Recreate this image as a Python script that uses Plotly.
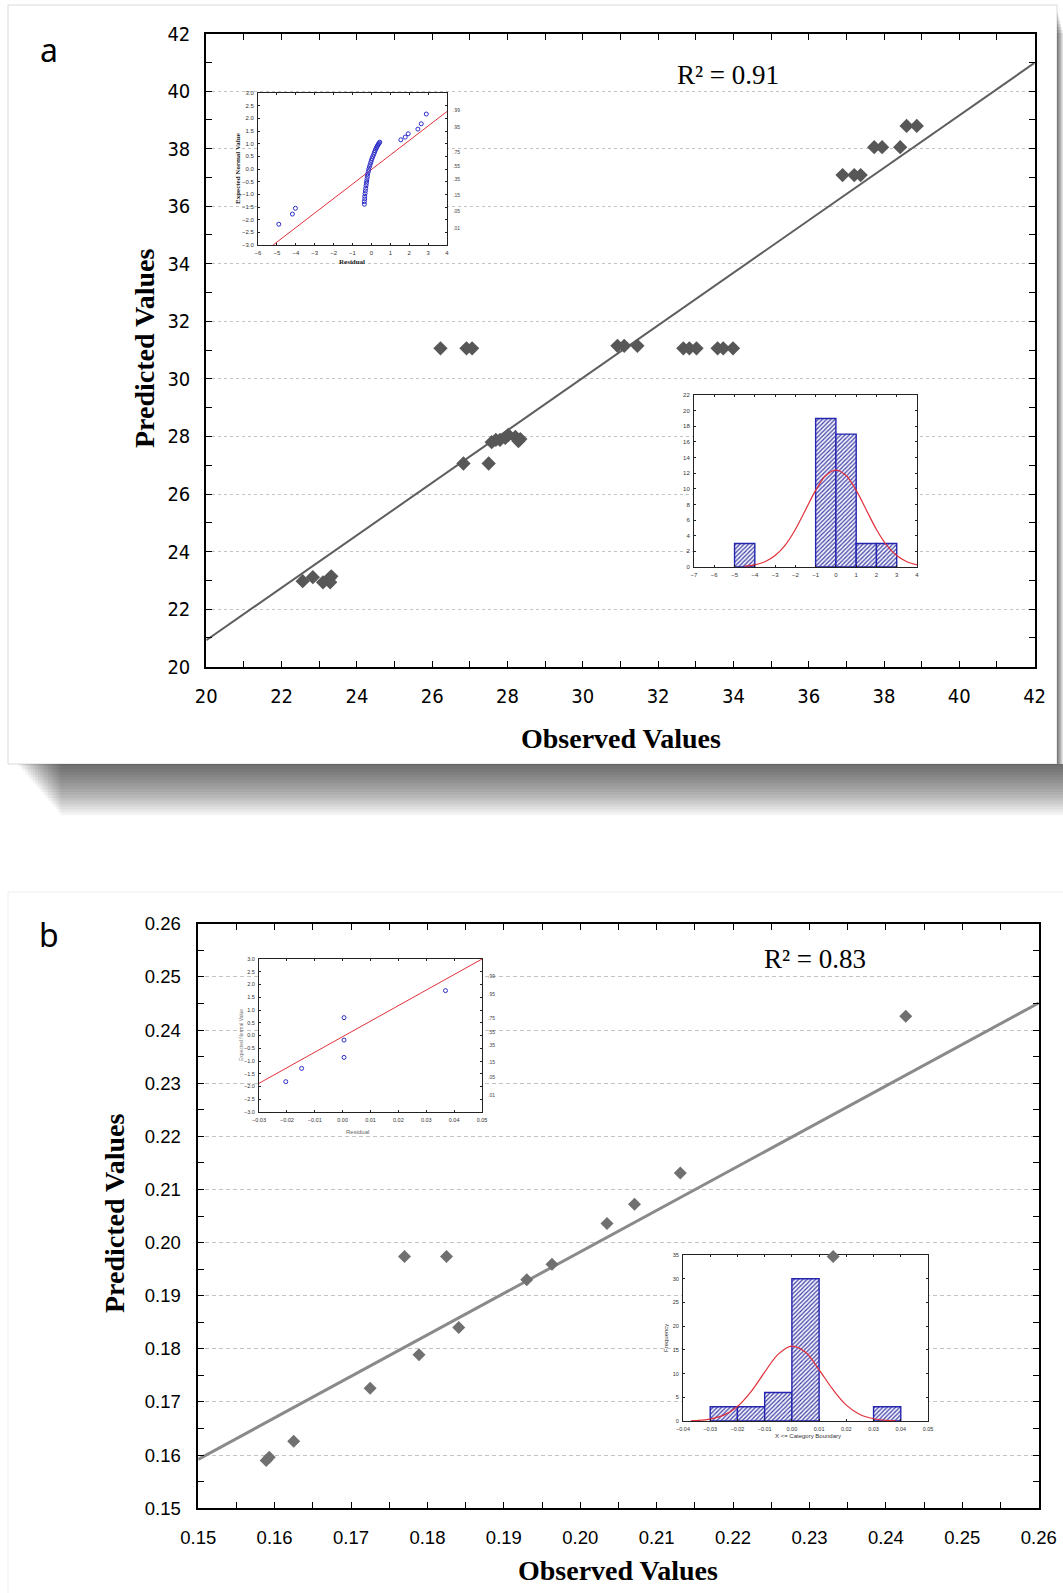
import plotly.graph_objects as go

W, H = 1063, 1593

# ---------------- Panel a data ----------------
a_observed = [22.56, 22.83, 23.10, 23.27, 23.32, 23.29,
              26.83, 27.50, 27.58, 27.69, 27.80, 27.94, 28.02, 28.21, 28.29, 28.34,
              26.22, 26.91, 27.06, 30.92, 31.10, 31.45, 32.67, 32.83, 33.02, 33.58, 33.73, 33.99,
              36.90, 37.21, 37.38, 37.74, 37.95, 38.43, 38.60, 38.87]
a_predicted = [22.97, 23.11, 22.93, 23.07, 23.14, 22.93,
               27.06, 27.06, 27.80, 27.88, 27.88, 27.95, 28.05, 27.98, 27.84, 27.91,
               31.06, 31.06, 31.06, 31.15, 31.15, 31.15, 31.06, 31.06, 31.06, 31.06, 31.06, 31.06,
               37.08, 37.08, 37.08, 38.05, 38.05, 38.05, 38.79, 38.79]
a_fit_x = [20, 42]
a_fit_y = [20.92, 40.98]
a_r2 = "R\u00b2 = 0.91"

# inset a1: normal probability plot of residuals
a1_residual = [-4.90, -4.18, -4.02,
               -0.372, -0.372, -0.354, -0.354, -0.336, -0.319, -0.301, -0.283, -0.265, -0.248,
               -0.230, -0.212, -0.195, -0.159, -0.142, -0.106, -0.071, -0.035, 0.000, 0.035,
               0.071, 0.124, 0.159, 0.195, 0.230, 0.265, 0.301, 0.336, 0.372, 0.407, 0.442,
               1.557, 1.788, 1.947, 2.460, 2.637, 2.903]
a1_expected = [-2.18, -1.78, -1.55,
               -1.393, -1.288, -1.182, -1.077, -0.971, -0.865, -0.760, -0.654, -0.562, -0.470,
               -0.377, -0.285, -0.193, -0.100, -0.008, 0.084, 0.164, 0.256, 0.335, 0.414,
               0.493, 0.573, 0.652, 0.718, 0.784, 0.836, 0.889, 0.942, 0.982, 1.021, 1.061,
               1.153, 1.259, 1.391, 1.575, 1.786, 2.169]
a1_line_x = [-5.2, 4.0]
a1_line_y = [-3.0, 2.27]

# inset a2: histogram of residuals
a2_bin_center = [-4.5, -0.5, 0.5, 1.5, 2.5]
a2_count = [3, 19, 17, 3, 3]
a2_bin_width = 1
a2_curve_x = [-4.5, -4.0, -3.5, -3.0, -2.5, -2.0, -1.5, -1.0, -0.5, 0.0,
              0.5, 1.0, 1.5, 2.0, 2.5, 3.0, 3.5, 4.0]
a2_curve_y = [0.10, 0.28, 0.67, 1.46, 2.8, 4.8, 7.3, 9.8, 11.7, 12.4,
              11.7, 9.8, 7.3, 4.8, 2.8, 1.46, 0.67, 0.28]

# ---------------- Panel b data ----------------
b_observed = [0.1589, 0.1593, 0.1625, 0.1725, 0.1770, 0.1789, 0.1825, 0.1841,
              0.1930, 0.1963, 0.2035, 0.2071, 0.2131, 0.2331, 0.2426]
b_predicted = [0.1590, 0.1596, 0.1626, 0.1726, 0.1974, 0.1789, 0.1974, 0.1840,
               0.1930, 0.1959, 0.2036, 0.2072, 0.2131, 0.1974, 0.2426]
b_fit_x = [0.15, 0.26]
b_fit_y = [0.1592, 0.2451]
b_r2 = "R\u00b2 = 0.83"

b1_residual = [-0.0204, -0.0147, 0.0005, 0.0005, 0.0005, 0.0369]
b1_expected = [-1.81, -1.29, 0.70, -0.18, -0.86, 1.76]
b1_line_x = [-0.03, 0.05]
b1_line_y = [-1.875, 3.0]

b2_bin_center = [-0.025, -0.015, -0.005, 0.005, 0.035]
b2_count = [3, 3, 6, 30, 3]
b2_bin_width = 0.01
b2_curve_x = [-0.037, -0.035, -0.030, -0.025, -0.020, -0.015, -0.010, -0.005, 0.000,
              0.005, 0.010, 0.015, 0.020, 0.025, 0.030, 0.035, 0.038]
b2_curve_y = [0.06, 0.11, 0.41, 1.23, 3.07, 6.2, 10.3, 14.1, 15.8,
              14.5, 10.8, 6.7, 3.35, 1.37, 0.47, 0.13, 0.05]

# normal probability labels on the right of the normal plots
prob_labels = [".99", ".95", ".75", ".55", ".35", ".15", ".05", ".01"]
prob_z = [2.326, 1.645, 0.674, 0.126, -0.385, -1.036, -1.645, -2.326]

# ---------------- ranges ----------------
a_range = [20, 42]
a1_xr, a1_yr = [-6, 4], [-3, 3]
a2_xr, a2_yr = [-7, 4], [0, 22]
b_range = [0.15, 0.26]
b1_xr, b1_yr = [-0.03, 0.05], [-3, 3]
b2_xr, b2_yr = [-0.04, 0.05], [0, 35]


def px_dom(p0, p1, total):
    return [p0 / total, p1 / total]


def py_dom(top, bottom):
    return [1 - bottom / H, 1 - top / H]


dom = {
    "a_x": px_dom(206.3, 1034.6, W), "a_y": py_dom(33.5, 666.7),
    "a1_x": px_dom(258, 447, W), "a1_y": py_dom(93, 245),
    "a2_x": px_dom(694, 917, W), "a2_y": py_dom(395, 567),
    "b_x": px_dom(198.2, 1038.7, W), "b_y": py_dom(923.8, 1508.2),
    "b1_x": px_dom(259, 482, W), "b1_y": py_dom(959, 1112),
    "b2_x": px_dom(683, 928, W), "b2_y": py_dom(1255, 1421),
}

NARROW = "Liberation Sans Narrow, DejaVu Sans Condensed, Arial Narrow, sans-serif"
SANS = "Liberation Sans, Arial, sans-serif"
SERIF = "Liberation Serif, Times New Roman, serif"

fig = go.Figure()

# ---- panel a main
fig.add_trace(go.Scatter(x=a_fit_x, y=a_fit_y, mode="lines",
                         line=dict(color="#5e5e5e", width=2), xaxis="x", yaxis="y",
                         hoverinfo="skip"))
fig.add_trace(go.Scatter(x=a_observed, y=a_predicted, mode="markers",
                         marker=dict(symbol="diamond", size=11, color="#575757"),
                         xaxis="x", yaxis="y"))


def bg_scatter(xr, yr, xa, ya):
    return go.Scatter(x=[xr[0], xr[1], xr[1], xr[0], xr[0]],
                      y=[yr[0], yr[0], yr[1], yr[1], yr[0]],
                      mode="lines", fill="toself", fillcolor="white",
                      line=dict(width=0, color="white"), xaxis=xa, yaxis=ya,
                      hoverinfo="skip")


def bg_bar(xr, yr, xa, ya):
    return go.Bar(x=[(xr[0] + xr[1]) / 2], y=[yr[1] - yr[0]], base=[yr[0]],
                  width=[xr[1] - xr[0]], marker=dict(color="white", line=dict(width=0)),
                  xaxis=xa, yaxis=ya, hoverinfo="skip")


hatch = dict(color="white", line=dict(color="#2424b0", width=1.4),
             pattern=dict(shape="/", fgcolor="#4040a8", bgcolor="#f4f4fb",
                          size=3, solidity=0.4))

# ---- inset a1
fig.add_trace(bg_scatter(a1_xr, a1_yr, "x2", "y2"))
fig.add_trace(go.Scatter(x=a1_line_x, y=a1_line_y, mode="lines",
                         line=dict(color="#e0303a", width=1), xaxis="x2", yaxis="y2"))
fig.add_trace(go.Scatter(x=a1_residual, y=a1_expected, mode="markers",
                         marker=dict(symbol="circle-open", size=4, color="#2b2bc8",
                                     line=dict(width=1)),
                         xaxis="x2", yaxis="y2"))

# ---- inset a2
fig.add_trace(bg_bar(a2_xr, a2_yr, "x3", "y3"))
fig.add_trace(go.Bar(x=a2_bin_center, y=a2_count, width=a2_bin_width, marker=hatch,
                     xaxis="x3", yaxis="y3"))
fig.add_trace(go.Scatter(x=a2_curve_x, y=a2_curve_y, mode="lines",
                         line=dict(color="#e0303a", width=1.2, shape="spline"),
                         xaxis="x3", yaxis="y3"))

# ---- panel b main (frame / grid / fit line)
fig.add_trace(go.Scatter(x=b_fit_x, y=b_fit_y, mode="lines",
                         line=dict(color="#8a8a8a", width=3), xaxis="x4", yaxis="y4",
                         hoverinfo="skip"))

# ---- inset b1
fig.add_trace(bg_scatter(b1_xr, b1_yr, "x5", "y5"))
fig.add_trace(go.Scatter(x=b1_line_x, y=b1_line_y, mode="lines",
                         line=dict(color="#e0303a", width=1), xaxis="x5", yaxis="y5"))
fig.add_trace(go.Scatter(x=b1_residual, y=b1_expected, mode="markers",
                         marker=dict(symbol="circle-open", size=4, color="#2b2bc8",
                                     line=dict(width=1)),
                         xaxis="x5", yaxis="y5"))

# ---- inset b2
fig.add_trace(bg_bar(b2_xr, b2_yr, "x6", "y6"))
fig.add_trace(go.Bar(x=b2_bin_center, y=b2_count, width=b2_bin_width, marker=hatch,
                     xaxis="x6", yaxis="y6"))
fig.add_trace(go.Scatter(x=b2_curve_x, y=b2_curve_y, mode="lines",
                         line=dict(color="#e0303a", width=1.2, shape="spline"),
                         xaxis="x6", yaxis="y6"))

# ---- panel b markers (drawn on top of the insets)
fig.add_trace(go.Scatter(x=b_observed, y=b_predicted, mode="markers",
                         marker=dict(symbol="diamond", size=10, color="#707070"),
                         xaxis="x7", yaxis="y7"))


def main_axis(domain, rng, dtick, minor, anchor, font, lw, grid=False, griddash="dot",
              gridcolor="#c4c4c4", fmt=None, standoff=10):
    d = dict(domain=domain, range=rng, anchor=anchor, dtick=dtick, tick0=rng[0],
             ticks="inside", ticklen=6, tickwidth=1, tickcolor="black",
             showline=True, linecolor="black", linewidth=lw, mirror="ticks",
             showgrid=grid, gridcolor=gridcolor, griddash=griddash, gridwidth=1,
             zeroline=False, tickfont=font, ticklabelstandoff=standoff)
    if minor:
        d["minor"] = dict(dtick=minor, ticks="inside", ticklen=6, tickcolor="black",
                          showgrid=False)
    if fmt:
        d["tickformat"] = fmt
    return d


def inset_axis(domain, rng, dtick, anchor, fmt=None, size=6):
    d = dict(domain=domain, range=rng, anchor=anchor, dtick=dtick, tick0=rng[0],
             ticks="inside", ticklen=2, tickwidth=1, tickcolor="#222",
             showline=True, linecolor="#222", linewidth=1, mirror="ticks",
             showgrid=False, zeroline=False,
             tickfont=dict(family=SANS, size=size, color="#333"), ticklabelstandoff=2)
    if fmt:
        d["tickformat"] = fmt
    return d


fa = dict(family=NARROW, size=20, color="black")
fb = dict(family=SANS, size=18.5, color="black")

layout = dict(
    width=W, height=H, margin=dict(l=0, r=0, t=0, b=0),
    paper_bgcolor="white", plot_bgcolor="rgba(0,0,0,0)",
    template="none", showlegend=False, barmode="overlay",
    xaxis=main_axis(dom["a_x"], a_range, 2, 1, "y", fa, 2),
    yaxis=main_axis(dom["a_y"], a_range, 2, 1, "x", fa, 2, grid=True),
    xaxis2=inset_axis(dom["a1_x"], a1_xr, 1, "y2"),
    yaxis2=inset_axis(dom["a1_y"], a1_yr, 0.5, "x2", ".1f"),
    xaxis3=inset_axis(dom["a2_x"], a2_xr, 1, "y3"),
    yaxis3=inset_axis(dom["a2_y"], a2_yr, 2, "x3"),
    xaxis4=main_axis(dom["b_x"], b_range, 0.01, 0.005, "y4", fb, 1.5, fmt=".2f", standoff=12),
    yaxis4=main_axis(dom["b_y"], b_range, 0.01, 0.005, "x4", fb, 1.5, grid=True,
                     griddash="4px,3px", gridcolor="#c4c4c4", fmt=".2f", standoff=12),
    xaxis5=inset_axis(dom["b1_x"], b1_xr, 0.01, "y5", ".2f", size=5.5),
    yaxis5=inset_axis(dom["b1_y"], b1_yr, 0.5, "x5", ".1f", size=5.5),
    xaxis6=inset_axis(dom["b2_x"], b2_xr, 0.01, "y6", ".2f", size=5.5),
    yaxis6=inset_axis(dom["b2_y"], b2_yr, 5, "x6", size=5.5),
    xaxis7=dict(domain=dom["b_x"], range=b_range, anchor="y7", visible=False),
    yaxis7=dict(domain=dom["b_y"], range=b_range, anchor="x7", visible=False),
)
fig.update_layout(**layout)

# ---------------- decorations: card borders and shadow ----------------
shapes = []
shapes.append(dict(type="rect", xref="paper", yref="paper", x0=8 / W, x1=1057 / W,
                   y0=1 - 764 / H, y1=1 - 5 / H, line=dict(color="#dadada", width=1),
                   fillcolor="rgba(0,0,0,0)", layer="below"))
for i in range(18):
    h = 2 + i * 2.9
    x0 = 18 + i * 2.5
    shapes.append(dict(type="rect", xref="paper", yref="paper", x0=x0 / W, x1=1063 / W,
                       y0=1 - (764 + h) / H, y1=1 - 764 / H,
                       fillcolor="rgba(0,0,0,0.042)", line=dict(width=0), layer="below"))
for i in range(8):
    w = 1 + i * 0.75
    shapes.append(dict(type="rect", xref="paper", yref="paper", x0=1057 / W,
                       x1=(1057 + w) / W, y0=1 - 764 / H, y1=1 - (12 + i * 3) / H,
                       fillcolor="rgba(0,0,0,0.08)", line=dict(width=0), layer="below"))
shapes.append(dict(type="line", xref="paper", yref="paper", x0=8 / W, x1=1,
                   y0=1 - 892 / H, y1=1 - 892 / H, line=dict(color="#eeeeee", width=1),
                   layer="below"))
shapes.append(dict(type="line", xref="paper", yref="paper", x0=8 / W, x1=8 / W,
                   y0=0, y1=1 - 892 / H, line=dict(color="#f0f0f0", width=1),
                   layer="below"))
fig.update_layout(shapes=shapes)

# ---------------- annotations ----------------
ann = []


def text(x, y, s, font, angle=0, xanchor="center", yanchor="middle"):
    ann.append(dict(x=x / W, y=1 - y / H, xref="paper", yref="paper", text=s,
                    showarrow=False, font=font, textangle=angle,
                    xanchor=xanchor, yanchor=yanchor))


tfont = dict(family=SERIF, size=28, color="black", weight="bold")
text(49, 50, "a", dict(family="Noto Sans, Open Sans, sans-serif", size=32, color="black"))
text(49, 934, "b", dict(family="Noto Sans, Open Sans, sans-serif", size=32, color="black"))
text(728, 75, a_r2, dict(family=SERIF, size=27, color="black"))
text(815, 959, b_r2, dict(family=SERIF, size=27, color="black"))
text(144, 349, "Predicted Values", tfont, angle=-90)
text(621, 739, "Observed Values", tfont)
text(114, 1214, "Predicted Values", tfont, angle=-90)
text(618, 1570, "Observed Values", tfont)

# inset titles
sfont = dict(family=SERIF, size=7, color="#222", weight="bold")
text(238, 169, "Expected Normal Value", sfont, angle=-90)
text(352, 262, "Residual", sfont)
text(241, 1035, "Expected Normal Value", dict(family=SANS, size=5, color="#777"), angle=-90)
text(357, 1132, "Residual", dict(family=SANS, size=6, color="#666"))
text(666, 1338, "Frequency", dict(family=SANS, size=6, color="#333"), angle=-90)
text(808, 1436, "X <= Category Boundary", dict(family=SANS, size=6, color="#333"))

for lab, z in zip(prob_labels, prob_z):
    ann.append(dict(x=1.0, y=z, xref="x2 domain", yref="y2", text=lab, showarrow=False,
                    xanchor="left", xshift=4, font=dict(family=SANS, size=5, color="#444")))
    ann.append(dict(x=1.0, y=z, xref="x5 domain", yref="y5", text=lab, showarrow=False,
                    xanchor="left", xshift=4, font=dict(family=SANS, size=5, color="#444")))

fig.update_layout(annotations=ann)

fig.write_html("out.html")
